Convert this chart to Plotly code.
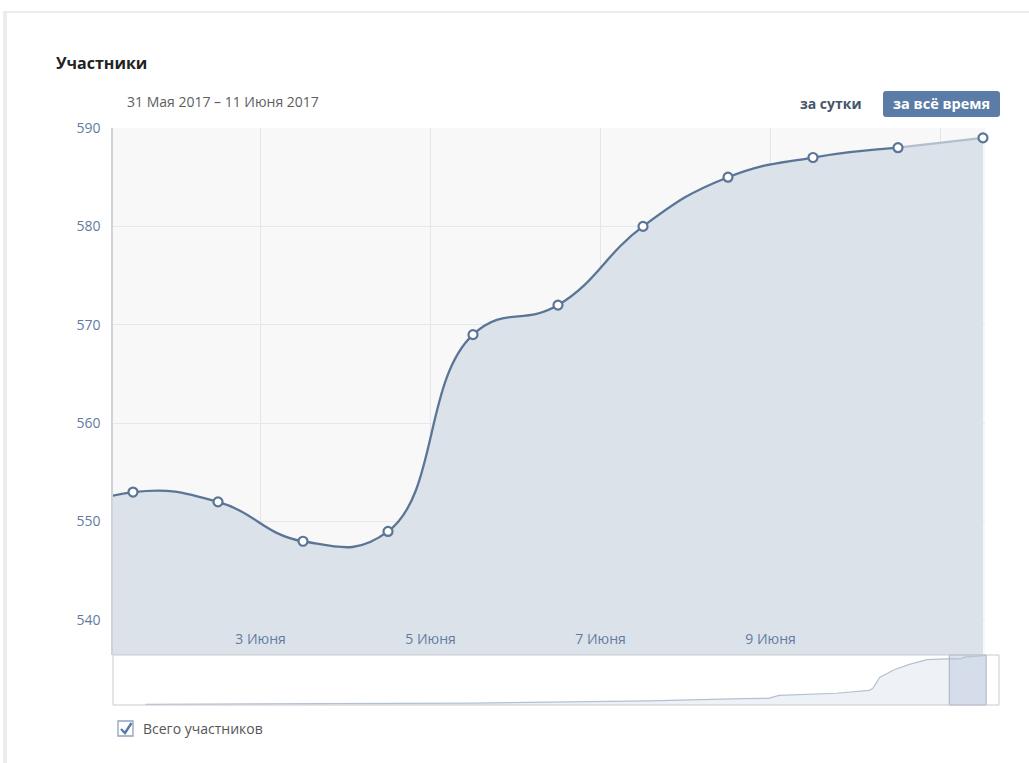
import plotly.graph_objects as go

# ---------------- data ----------------
dates = ["2017-05-31 12:00", "2017-06-01 12:00", "2017-06-02 12:00", "2017-06-03 12:00",
         "2017-06-04 12:00", "2017-06-05 12:00", "2017-06-06 12:00", "2017-06-07 12:00",
         "2017-06-08 12:00", "2017-06-09 12:00", "2017-06-10 12:00", "2017-06-11 12:00"]
members = [550, 553, 552, 548, 549, 569, 572, 580, 585, 587, 588, 589]

history_dates = ["2016-10-21", "2016-12-20", "2017-01-20", "2017-02-10", "2017-03-10",
                 "2017-04-05", "2017-04-12", "2017-04-15", "2017-05-01", "2017-05-10",
                 "2017-05-11", "2017-05-13", "2017-05-17", "2017-05-21", "2017-05-26"]
history_members = [8, 14, 22, 35, 48, 75, 80, 115, 140, 175, 195, 330, 420, 480, 540]

tick_dates = ["2017-06-03", "2017-06-05", "2017-06-07", "2017-06-09", "2017-06-11"]
tick_labels = ["3 Июня", "5 Июня", "7 Июня", "9 Июня", ""]
y_ticks = [540, 550, 560, 570, 580, 590]

view_range = ["2017-06-01 06:21", "2017-06-11 12:34"]
nav_range = ["2016-10-12", "2017-06-15 02:00"]

# ---------------- layout geometry (pixels) ----------------
W, H = 1029, 763
L, R, T, B = 113, 999, 128, 705
MAIN_R, MAIN_B = 985, 655


def px(x):
    return (x - L) / (R - L)


def py(y):
    return (B - y) / (B - T)


FONT = "Open Sans, Noto Sans, sans-serif"
LINE = "#5a7596"
LIGHT = "#b3bfcd"
FILL = "#dce2ea"
TICK = "#5f7ca0"

fig = go.Figure()

# main area fill
fig.add_trace(go.Scatter(x=dates, y=members, mode="lines", line=dict(width=0, shape="spline", smoothing=1.3),
                         fill="tozeroy", fillcolor=FILL, hoverinfo="skip", showlegend=False,
                         xaxis="x", yaxis="y"))
# dark line
fig.add_trace(go.Scatter(x=dates[:-1], y=members[:-1], mode="lines",
                         line=dict(color=LINE, width=2.3, shape="spline", smoothing=1.3),
                         showlegend=False, xaxis="x", yaxis="y"))
# light last segment
fig.add_trace(go.Scatter(x=dates[-2:], y=members[-2:], mode="lines",
                         line=dict(color=LIGHT, width=2.3),
                         showlegend=False, xaxis="x", yaxis="y"))
# markers
fig.add_trace(go.Scatter(x=dates[1:], y=members[1:], mode="markers",
                         marker=dict(size=9, color="white", line=dict(color=LINE, width=2.2)),
                         cliponaxis=False, name="Всего участников", showlegend=False,
                         xaxis="x", yaxis="y"))

# navigator
nav_x = history_dates + dates
nav_y = history_members + members
fig.add_trace(go.Scatter(x=nav_x, y=nav_y, mode="lines", line=dict(color="#b4c1d2", width=1.2),
                         fill="tozeroy", fillcolor="#eef2f7", hoverinfo="skip", showlegend=False,
                         xaxis="x2", yaxis="y2"))

main_bottom = py(MAIN_B)
main_right = px(MAIN_R)

shapes = [
    # main plot background
    dict(type="rect", xref="paper", yref="paper", x0=0, x1=main_right, y0=main_bottom, y1=1,
         fillcolor="#f8f8f8", line=dict(width=0), layer="below"),
    # panel frame
    dict(type="line", xref="paper", yref="paper", x0=px(3), x1=px(W), y0=py(12), y1=py(12),
         line=dict(color="#e6e6e6", width=1.5), layer="below"),
    dict(type="rect", xref="paper", yref="paper", x0=px(3), x1=px(7), y0=py(H), y1=py(12),
         fillcolor="#ececec", line=dict(width=0), layer="below"),
    # navigator window
    dict(type="rect", xref="x2", yref="paper", x0=view_range[0], x1=view_range[1], y0=0, y1=main_bottom,
         fillcolor="rgba(180,195,215,0.45)", line=dict(color="#aab3bf", width=1), layer="above"),
    # navigator outline
    dict(type="rect", xref="paper", yref="paper", x0=0, x1=1, y0=0, y1=main_bottom,
         line=dict(color="#c6cad0", width=1), layer="above"),
]

# button (rounded)
bx0, bx1, by0, by1, r = px(883), px(1000), py(117), py(91), 3
rx, ry = r / (R - L), r / (B - T)
path = (f"M {bx0+rx},{by0} L {bx1-rx},{by0} Q {bx1},{by0} {bx1},{by0+ry} "
        f"L {bx1},{by1-ry} Q {bx1},{by1} {bx1-rx},{by1} L {bx0+rx},{by1} "
        f"Q {bx0},{by1} {bx0},{by1-ry} L {bx0},{by0+ry} Q {bx0},{by0} {bx0+rx},{by0} Z")
shapes.append(dict(type="path", xref="paper", yref="paper", path=path,
                   fillcolor="#5b7ca6", line=dict(width=0)))

# checkbox
shapes.append(dict(type="rect", xref="paper", yref="paper", x0=px(118), x1=px(133), y0=py(736), y1=py(721),
                   fillcolor="white", line=dict(color="#8ea3bd", width=1.3)))
shapes.append(dict(type="path", xref="paper", yref="paper",
                   path=f"M {px(121)},{py(729)} L {px(125)},{py(733)} L {px(131.5)},{py(723)}",
                   line=dict(color="#5b7aa3", width=2.4)))

annotations = [
    dict(text="<b>Участники</b>", x=px(54), y=py(63), xanchor="left", yanchor="middle",
         font=dict(size=16, color="#222222", family=FONT)),
    dict(text="31 Мая 2017 – 11 Июня 2017", x=px(125), y=py(102), xanchor="left", yanchor="middle",
         font=dict(size=14, color="#5e5e5e", family=FONT)),
    dict(text="<b>за сутки</b>", x=px(831), y=py(104), xanchor="center", yanchor="middle",
         font=dict(size=14, color="#45566b", family=FONT)),
    dict(text="<b>за всё время</b>", x=px(941.5), y=py(104), xanchor="center", yanchor="middle",
         font=dict(size=14.5, color="white", family=FONT)),
    dict(text="Всего участников", x=px(141), y=py(728), xanchor="left", yanchor="middle",
         font=dict(size=14, color="#555555", family=FONT)),
]
for a in annotations:
    a.update(xref="paper", yref="paper", showarrow=False)

fig.update_layout(
    width=W, height=H,
    margin=dict(l=L, r=W - R, t=T, b=H - B, pad=0),
    paper_bgcolor="white", plot_bgcolor="white",
    font=dict(family=FONT, size=14, color=TICK),
    showlegend=False,
    xaxis=dict(domain=[0, main_right], anchor="y", type="date", range=view_range,
               tickmode="array", tickvals=tick_dates, ticktext=tick_labels,
               ticklabelposition="inside", ticks="", ticklabelstandoff=5,
               showgrid=True, gridcolor="#e2e5ea", gridwidth=1, zeroline=False, showline=False,
               tickfont=dict(size=14, color=TICK, family=FONT)),
    yaxis=dict(domain=[main_bottom, 1], anchor="x", range=[536.44, 590],
               tickmode="array", tickvals=y_ticks, ticks="", ticklabelstandoff=8,
               showgrid=True, gridcolor="#e6e8ec", gridwidth=1, zeroline=False,
               showline=True, linecolor="#cfd3d8", linewidth=1.5,
               tickfont=dict(size=14, color=TICK, family=FONT)),
    xaxis2=dict(domain=[0, 1], anchor="y2", type="date", range=nav_range,
                showticklabels=False, ticks="", showgrid=False, zeroline=False, showline=False),
    yaxis2=dict(domain=[0, main_bottom], anchor="x2", range=[0, 595],
                showticklabels=False, ticks="", showgrid=False, zeroline=False, showline=False),
    shapes=shapes,
    annotations=annotations,
)

fig.write_html("out.html", config={"displayModeBar": False},
               post_script="document.body.style.margin='0';document.body.style.overflow='hidden';")
